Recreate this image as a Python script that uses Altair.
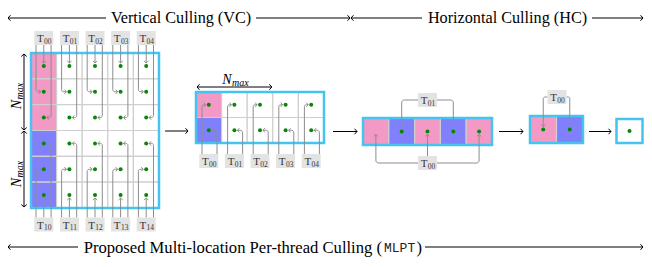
import math
import altair as alt
import pandas as pd

# ---------------- chart content ----------------
vc_col0 = ["pink", "pink", "pink", "blue", "blue", "blue"]   # first column of the VC grid
vc_ncols = 5
vc_top_tags = ["00", "01", "02", "03", "04"]
vc_bot_tags = ["10", "11", "12", "13", "14"]
mid_col0 = ["pink", "blue"]
mid_ncols = 5
mid_tags = ["00", "01", "02", "03", "04"]
hc_cells = ["pink", "blue", "pink", "blue", "pink"]
hc_dots = [False, True, True, True, True]
hc_top_tag, hc_top_targets = "01", [1, 3]
hc_bot_tag, hc_bot_targets = "00", [0, 2, 4]
pair_cells = ["pink", "blue"]
pair_tag, pair_targets = "00", [0, 1]
final_cells = ["white"]
title_vc = "Vertical Culling (VC)"
title_hc = "Horizontal Culling (HC)"
title_bottom = "Proposed Multi-location Per-thread Culling ("
title_bottom_code = "MLPT"
title_bottom_close = ")"
nmax_base, nmax_sub = "N", "max"

# ---------------- styles ----------------
COL = {"pink": "#f29ac5", "blue": "#8080fd", "white": "#ffffff"}
CYAN = "#46c4f0"
GRIDC = "#cfcfcf"
GREEN = "#0a850a"
WIRE = "#8d8d8d"
TAGBG = "#e3e3e3"
TAGTXT = "#333333"
SERIF = "Liberation Serif"
MONO = "Liberation Mono"
FS = 16.6
FS_TOP = 16.2

# ---------------- layout (page pixels) ----------------
VC = dict(x0=31, y0=53, cw=25.6, ch=25.83)
MID = dict(x0=196, y0=92, cw=25.6, ch=25.5)
HC = dict(x0=363, y0=118, cw=25.8, ch=27)
PAIR = dict(x0=530, y0=116, cw=26.5, ch=27)
FIN = dict(x0=616.5, y0=119, cw=26, ch=24)
TAG_W, TAG_H = 19, 14
XDOM, YDOM = [8, 644], [8, 259]
XEND = 643

cells, borders, dots, tags = [], [], [], []
wires, heads_g, blacklines, heads_k = [], [], [], []


def cx(g, c):
    return g["x0"] + (c + 0.5) * g["cw"]


def cy(g, r):
    return g["y0"] + (r + 0.5) * g["ch"]


def grid(g, colors, dot_mask=None):
    nr, nc = len(colors), len(colors[0])
    for r in range(nr):
        for c in range(nc):
            cells.append(dict(x=g["x0"] + c * g["cw"], x2=g["x0"] + (c + 1) * g["cw"],
                              y=g["y0"] + r * g["ch"], y2=g["y0"] + (r + 1) * g["ch"],
                              fill=COL[colors[r][c]]))
            if dot_mask is None or dot_mask[r][c]:
                dots.append(dict(x=cx(g, c), y=cy(g, r)))
    borders.append(dict(x=g["x0"], x2=g["x0"] + nc * g["cw"], y=g["y0"], y2=g["y0"] + nr * g["ch"]))


def rounded(pts, rad=3.0, n=5):
    out = [pts[0]]
    for i in range(1, len(pts) - 1):
        (x0, y0), (x1, y1), (x2, y2) = pts[i - 1], pts[i], pts[i + 1]
        d1 = math.hypot(x1 - x0, y1 - y0)
        d2 = math.hypot(x2 - x1, y2 - y1)
        rr = min(rad, d1 / 2, d2 / 2)
        ax, ay = x1 - (x1 - x0) / d1 * rr, y1 - (y1 - y0) / d1 * rr
        bx, by = x1 + (x2 - x1) / d2 * rr, y1 + (y2 - y1) / d2 * rr
        for k in range(n + 1):
            t = k / n
            out.append(((1 - t) ** 2 * ax + 2 * (1 - t) * t * x1 + t * t * bx,
                        (1 - t) ** 2 * ay + 2 * (1 - t) * t * y1 + t * t * by))
    out.append(pts[-1])
    return out


def arrow(pts, store, heads, head=True, rad=3.0):
    pid = len(store) and store[-1]["pid"] + 1 or 0
    for k, (x, y) in enumerate(rounded(pts, rad)):
        store.append(dict(pid=pid, ord=k, x=x, y=y))
    if head:
        (xa, ya), (xb, yb) = pts[-2], pts[-1]
        ang = math.degrees(math.atan2(-(xb - xa), (yb - ya))) % 360
        heads.append(dict(x=xb, y=yb, ang=ang))


def tag(x, y, sub):
    tags.append(dict(x=x - TAG_W / 2, x2=x + TAG_W / 2, y=y - TAG_H / 2, y2=y + TAG_H / 2,
                     cx=x, cy=y, sub=sub))


# --- vertical culling grid ---
vc_colors = [[vc_col0[r]] + ["white"] * (vc_ncols - 1) for r in range(len(vc_col0))]
grid(VC, vc_colors)
top_y, bot_y = 38, 224.5
for c, t in enumerate(vc_top_tags):
    L = VC["x0"] + c * VC["cw"]
    xc, xl, xr = cx(VC, c), L + 5, L + VC["cw"] - 5.5
    tag(xc, top_y, t)
    y0 = top_y + TAG_H / 2
    arrow([(xc, y0), (xc, cy(VC, 0) - 3)], wires, heads_g)
    arrow([(xl, y0), (xl, cy(VC, 1)), (xc - 3, cy(VC, 1))], wires, heads_g)
    arrow([(xr, y0), (xr, cy(VC, 2)), (xc + 3, cy(VC, 2))], wires, heads_g)
for c, t in enumerate(vc_bot_tags):
    L = VC["x0"] + c * VC["cw"]
    xc, xl, xr = cx(VC, c), L + 5, L + VC["cw"] - 5.5
    tag(xc, bot_y, t)
    y0 = bot_y - TAG_H / 2
    arrow([(xc, y0), (xc, cy(VC, 5) + 3)], wires, heads_g)
    arrow([(xl, y0), (xl, cy(VC, 4)), (xc - 3, cy(VC, 4))], wires, heads_g)
    arrow([(xr, y0), (xr, cy(VC, 3)), (xc + 3, cy(VC, 3))], wires, heads_g)

# --- intermediate grid ---
mid_colors = [[mid_col0[r]] + ["white"] * (mid_ncols - 1) for r in range(len(mid_col0))]
grid(MID, mid_colors)
mid_tag_y = 161
for c, t in enumerate(mid_tags):
    L = MID["x0"] + c * MID["cw"]
    xc, xl, xr = cx(MID, c), L + 6, L + 21
    tag(xc, mid_tag_y, t)
    y0 = mid_tag_y - TAG_H / 2
    arrow([(xl, y0), (xl, cy(MID, 0)), (xc - 3, cy(MID, 0))], wires, heads_g)
    arrow([(xr, y0), (xr, cy(MID, 1)), (xc + 3, cy(MID, 1))], wires, heads_g)

# --- horizontal culling row ---
grid(HC, [hc_cells], [hc_dots])
tx, ty_top, ty_bot = 427.5, 100, 163
tag(tx, ty_top, hc_top_tag)
tag(tx, ty_bot, hc_bot_tag)
for i in hc_top_targets:
    x = cx(HC, i)
    xs = tx - TAG_W / 2 if x < tx else tx + TAG_W / 2
    arrow([(xs, ty_top), (x, ty_top), (x, cy(HC, 0) - 3)], wires, heads_g)
for i in hc_bot_targets:
    x = cx(HC, i)
    if abs(x - tx) < 1:
        arrow([(x, ty_bot - TAG_H / 2), (x, cy(HC, 0) + 3)], wires, heads_g)
    else:
        xs = tx - TAG_W / 2 if x < tx else tx + TAG_W / 2
        arrow([(xs, ty_bot), (x, ty_bot), (x, cy(HC, 0) + 3)], wires, heads_g)

# --- pair ---
grid(PAIR, [pair_cells])
ptx, pty = 557, 97
tag(ptx, pty, pair_tag)
for i in pair_targets:
    x = cx(PAIR, i)
    xs = ptx - TAG_W / 2 if x < ptx else ptx + TAG_W / 2
    arrow([(xs, pty), (x, pty), (x, cy(PAIR, 0) - 3)], wires, heads_g)

# --- final ---
grid(FIN, [final_cells])

# --- black arrows ---
for (xa, xb, y) in [(165, 188, 131), (333, 357, 131.5), (499, 523, 131.5), (589, 611, 131.5)]:
    arrow([(xa, y), (xb, y)], blacklines, heads_k)
# title arrows
TB = 22.5          # baseline of the top titles
TY = TB - 4.5      # arrows run through the middle of the lower-case letters
arrow([(106, TY), (8, TY)], blacklines, heads_k)
arrow([(256, TY), (350, TY)], blacklines, heads_k)
arrow([(422, TY), (351, TY)], blacklines, heads_k)
arrow([(592, TY), (XEND, TY)], blacklines, heads_k)
BY = 247
arrow([(78, BY), (8, BY)], blacklines, heads_k)
arrow([(425, BY), (XEND, BY)], blacklines, heads_k)
# N_max dimension arrows
vmid1 = VC["y0"] + 1.5 * VC["ch"]
vmid2 = VC["y0"] + 4.5 * VC["ch"]
ymid = VC["y0"] + 3 * VC["ch"]
arrow([(24, vmid1), (24, VC["y0"] + 1)], blacklines, heads_k)
arrow([(24, vmid1), (24, ymid - 0.5)], blacklines, heads_k)
arrow([(24, vmid2), (24, ymid + 0.5)], blacklines, heads_k)
arrow([(24, vmid2), (24, VC["y0"] + 6 * VC["ch"] - 1)], blacklines, heads_k)
hmid = MID["x0"] + 1.5 * MID["cw"]
arrow([(hmid, 87), (MID["x0"] + 1, 87)], blacklines, heads_k)
arrow([(hmid, 87), (MID["x0"] + 3 * MID["cw"] - 1, 87)], blacklines, heads_k)

top_texts = pd.DataFrame([dict(x=181, y=TB, t=title_vc), dict(x=507.5, y=TB, t=title_hc)])
bottom_texts = pd.DataFrame([dict(x=382, y=BY + 5.5, t=title_bottom)])

# ---------------- encoding ----------------
X = alt.X("x:Q", scale=alt.Scale(domain=XDOM, nice=False, zero=False), axis=None)
Y = alt.Y("y:Q", scale=alt.Scale(domain=YDOM, nice=False, zero=False, reverse=True), axis=None)
XC = alt.X("cx:Q", scale=alt.Scale(domain=XDOM, nice=False, zero=False), axis=None)
YC = alt.Y("cy:Q", scale=alt.Scale(domain=YDOM, nice=False, zero=False, reverse=True), axis=None)
HEAD = "M-1,-0.9L0,0L1,-0.9"

l_cells = alt.Chart(pd.DataFrame(cells)).mark_rect(stroke=GRIDC, strokeWidth=1.2).encode(
    x=X, x2="x2:Q", y=Y, y2="y2:Q", fill=alt.Fill("fill:N", scale=None))
l_border = alt.Chart(pd.DataFrame(borders)).mark_rect(
    fillOpacity=0, stroke=CYAN, strokeWidth=2.5).encode(x=X, x2="x2:Q", y=Y, y2="y2:Q")
l_wires = alt.Chart(pd.DataFrame(wires)).mark_line(stroke=WIRE, strokeWidth=1).encode(
    x=X, y=Y, detail="pid:N", order="ord:Q")
l_heads_g = alt.Chart(pd.DataFrame(heads_g)).mark_point(
    shape=HEAD, size=18, filled=False, stroke=WIRE, strokeWidth=1, opacity=1).encode(
    x=X, y=Y, angle=alt.Angle("ang:Q", scale=None))
l_dots = alt.Chart(pd.DataFrame(dots)).mark_circle(size=16, color=GREEN, opacity=1).encode(x=X, y=Y)
tags_df = pd.DataFrame(tags)
l_tags = alt.Chart(tags_df).mark_rect(fill=TAGBG).encode(x=X, x2="x2:Q", y=Y, y2="y2:Q")
l_tagT = alt.Chart(tags_df).mark_text(text="T", font=SERIF, fontSize=11, align="right",
                                      baseline="alphabetic", dy=4, color=TAGTXT).encode(x=XC, y=YC)
l_tagS = alt.Chart(tags_df).mark_text(font=SERIF, fontSize=7.5, align="left",
                                      baseline="alphabetic", dy=5.5, dx=0.3, color=TAGTXT).encode(
    x=XC, y=YC, text="sub:N")
l_black = alt.Chart(pd.DataFrame(blacklines)).mark_line(stroke="black", strokeWidth=1).encode(
    x=X, y=Y, detail="pid:N", order="ord:Q")
l_heads_k = alt.Chart(pd.DataFrame(heads_k)).mark_point(
    shape=HEAD, size=30, filled=False, stroke="black", strokeWidth=1, opacity=1).encode(
    x=X, y=Y, angle=alt.Angle("ang:Q", scale=None))

l_top = alt.Chart(top_texts).mark_text(
    font=SERIF, fontSize=FS_TOP, align="center", baseline="alphabetic", color="black").encode(
    x=X, y=Y, text="t:N")
l_bot = alt.Chart(bottom_texts).mark_text(
    font=SERIF, fontSize=FS, align="right", baseline="alphabetic", color="black").encode(x=X, y=Y, text="t:N")
l_code = alt.Chart(pd.DataFrame([dict(x=384, y=BY + 4.5, t=title_bottom_code)])).mark_text(
    font=MONO, fontSize=13, align="left", baseline="alphabetic", color="#222").encode(x=X, y=Y, text="t:N")
l_close = alt.Chart(pd.DataFrame([dict(x=416.5, y=BY + 5.5, t=title_bottom_close)])).mark_text(
    font=SERIF, fontSize=FS, align="left", baseline="alphabetic", color="black").encode(x=X, y=Y, text="t:N")

# N_max labels
nmax_h = pd.DataFrame([dict(x=227, y=84, t=nmax_base)])
nmax_hs = pd.DataFrame([dict(x=232, y=86, t=nmax_sub)])
l_nh = alt.Chart(nmax_h).mark_text(font=SERIF, fontSize=14, fontStyle="italic", align="center",
                                   baseline="alphabetic").encode(x=X, y=Y, text="t:N")
l_nhs = alt.Chart(nmax_hs).mark_text(font=SERIF, fontSize=10, fontStyle="italic", align="left",
                                     baseline="alphabetic").encode(x=X, y=Y, text="t:N")
nmax_v = pd.DataFrame([dict(x=21, y=104.5, t=nmax_base), dict(x=21, y=182.5, t=nmax_base)])
nmax_vs = pd.DataFrame([dict(x=23, y=99.5, t=nmax_sub), dict(x=23, y=177.5, t=nmax_sub)])
l_nv = alt.Chart(nmax_v).mark_text(font=SERIF, fontSize=14, fontStyle="italic", align="center",
                                   baseline="alphabetic", angle=270).encode(x=X, y=Y, text="t:N")
l_nvs = alt.Chart(nmax_vs).mark_text(font=SERIF, fontSize=10, fontStyle="italic", align="left",
                                     baseline="alphabetic", angle=270).encode(x=X, y=Y, text="t:N")

chart = alt.layer(
    l_cells, l_border, l_wires, l_heads_g, l_dots, l_tags, l_tagT, l_tagS,
    l_black, l_heads_k, l_top, l_bot, l_code, l_close,
    l_nh, l_nhs, l_nv, l_nvs,
).properties(width=XDOM[1] - XDOM[0], height=YDOM[1] - YDOM[0], padding=0, autosize="none",
             background="white"
).configure_view(stroke=None)

chart.save("out.html", embed_options={"renderer": "svg", "actions": False})
